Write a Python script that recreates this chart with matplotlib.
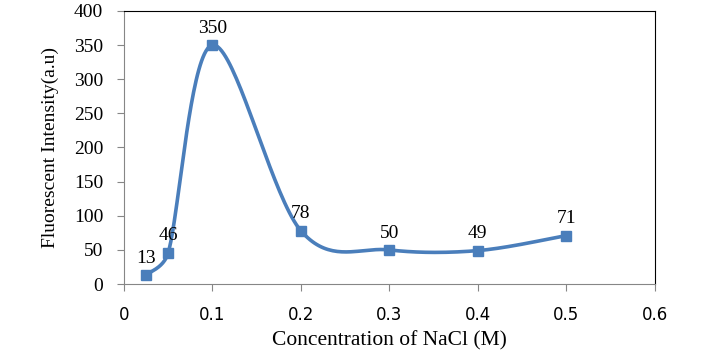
import matplotlib.pyplot as plt
import numpy as np

conc = [0.025, 0.05, 0.1, 0.2, 0.3, 0.4, 0.5]
intensity = [13, 46, 350, 78, 50, 49, 71]
labels = ["13", "46", "350", "78", "50", "49", "71"]

BLUE = "#4a7ebb"


def smooth(x, y, n=40):
    # Excel-like smoothed line: catmull-rom bezier, arms capped at half the segment
    pts = np.column_stack([x, y]).astype(float)
    pts = np.vstack([pts[0], pts, pts[-1]])
    t = np.linspace(0, 1, n)[:, None]
    out = []
    for i in range(1, len(pts) - 2):
        p0, p1, p2, p3 = pts[i - 1], pts[i], pts[i + 1], pts[i + 2]
        d12 = np.hypot(*(p2 - p1))
        d02 = np.hypot(*(p2 - p0))
        d13 = np.hypot(*(p3 - p1))
        f1 = min(1 / 6, 0.5 * d12 / d02) if d02 > 0 else 1 / 6
        f2 = min(1 / 6, 0.5 * d12 / d13) if d13 > 0 else 1 / 6
        c1 = p1 + (p2 - p0) * f1
        c2 = p2 - (p3 - p1) * f2
        b = (1 - t) ** 3 * p1 + 3 * (1 - t) ** 2 * t * c1 + 3 * (1 - t) * t ** 2 * c2 + t ** 3 * p2
        out.append(b)
    out = np.vstack(out)
    return out[:, 0], out[:, 1]


fig = plt.figure(figsize=(7.14, 3.52), dpi=100)
ax = fig.add_axes([0.1737, 0.193, 0.7433, 0.776])

# smooth in pixel-like scaled space so the shape matches
sx, sy = smooth(np.array(conc) / 0.6 * 531, np.array(intensity) / 400 * 273)
ax.plot(sx * 0.6 / 531, sy * 400 / 273, color=BLUE, lw=2.6, zorder=2)
ax.plot(conc, intensity, ls="none", marker="s", ms=7, color=BLUE, zorder=3)

for x, y, t in zip(conc, intensity, labels):
    ax.annotate(t, (x, y), xytext=(0, 6), textcoords="offset points",
                ha="center", va="bottom", fontsize=14, family="Liberation Serif")

ax.set_xlim(0, 0.6)
ax.set_ylim(0, 400)
ax.set_xticks(np.arange(0, 0.61, 0.1))
ax.set_xticklabels(["0", "0.1", "0.2", "0.3", "0.4", "0.5", "0.6"])
ax.set_yticks(range(0, 401, 50))

for lab in ax.get_xticklabels():
    lab.set_family("DejaVu Sans")
    lab.set_fontsize(12)
for lab in ax.get_yticklabels():
    lab.set_family("Liberation Serif")
    lab.set_fontsize(14)

ax.spines["left"].set_color("#868686")
ax.spines["bottom"].set_color("#868686")
ax.spines["top"].set_color("black")
ax.spines["right"].set_color("black")
ax.tick_params(axis="both", direction="out", length=5, color="#868686")
ax.tick_params(axis="x", pad=11)
ax.tick_params(axis="y", pad=10)

ax.set_xlabel("Concentration of NaCl (M)", family="Liberation Serif", fontsize=15.5, labelpad=5)
ax.set_ylabel("Fluorescent Intensity(a.u)", family="Liberation Serif", fontsize=14, labelpad=11)

fig.savefig("out.png", dpi=100)
